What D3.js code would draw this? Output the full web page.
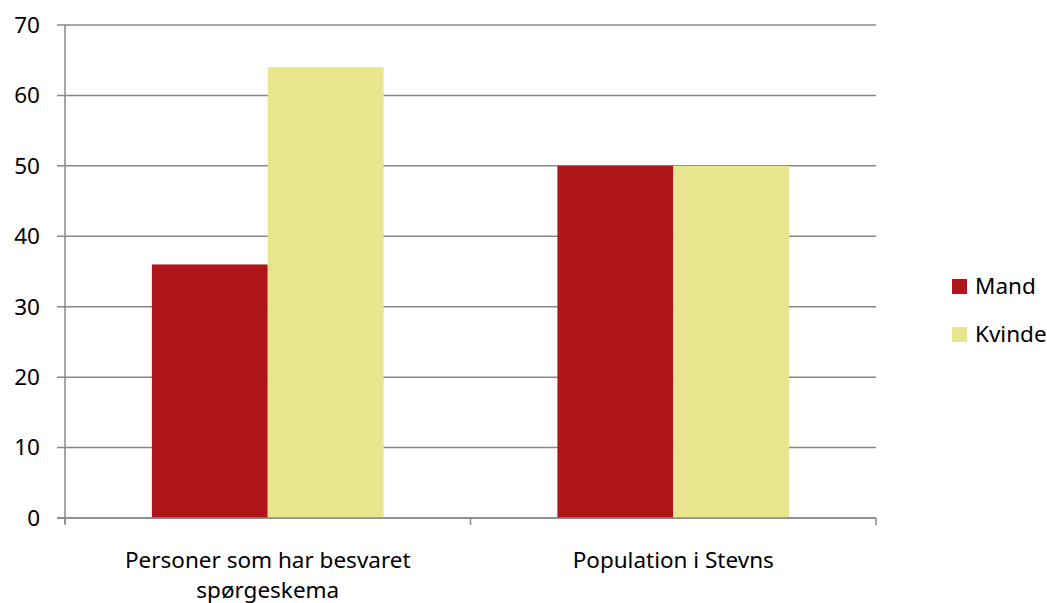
<!DOCTYPE html>
<html><head><meta charset="utf-8">
<script src="https://cdn.jsdelivr.net/npm/d3@7"></script>
<style>body{margin:0;background:#fff}text{font-family:"Noto Sans",sans-serif;fill:#000}</style>
</head><body><svg id="c" width="1047" height="603"></svg>
<script>
const categories = [["Personer som har besvaret","spørgeskema"],["Population i Stevns"]];
const seriesNames = ["Mand","Kvinde"];
const mandValues = [36, 50];
const kvindeValues = [64, 50];
const yTicks = [0,10,20,30,40,50,60,70];
const colors = ["#AE1419","#E9E58F"];

const svg = d3.select("#c");
const pLeft=65, pRight=876, pTop=25, pBottom=518;
const fs = "22.5px";
const x = d3.scaleBand().domain(d3.range(categories.length)).range([pLeft,pRight]);
const y = d3.scaleLinear().domain([0,70]).range([pBottom,pTop]);
const inner = d3.scaleBand().domain(seriesNames).range([0,x.bandwidth()]).paddingOuter(0.75).paddingInner(0);

// gridlines
svg.append("g").selectAll("line").data(yTicks).join("line")
  .attr("x1",pLeft-8).attr("x2",pRight).attr("y1",d=>y(d)).attr("y2",d=>y(d))
  .attr("stroke","#888").attr("stroke-width",1.5);
// y labels
svg.append("g").selectAll("text").data(yTicks).join("text")
  .attr("x",40).attr("y",d=>y(d)).attr("dy","0.35em").attr("text-anchor","end")
  .style("font-size",fs).text(d=>d);

const data = [mandValues,kvindeValues];
seriesNames.forEach((s,i)=>{
  svg.append("g").selectAll("rect").data(data[i]).join("rect")
    .attr("x",(d,j)=>x(j)+inner(s)).attr("width",inner.bandwidth())
    .attr("y",d=>y(d)).attr("height",d=>y(0)-y(d)).attr("fill",colors[i]);
});

// axes lines
svg.append("line").attr("x1",pLeft).attr("x2",pLeft).attr("y1",pTop).attr("y2",pBottom+6).attr("stroke","#888").attr("stroke-width",1.5);
svg.append("line").attr("x1",pLeft-8).attr("x2",pRight).attr("y1",pBottom).attr("y2",pBottom).attr("stroke","#888").attr("stroke-width",1.5);
const xt = d3.range(categories.length+1).map(i=> i<categories.length? x(i): pRight);
svg.append("g").selectAll("line").data(xt).join("line")
  .attr("x1",d=>d).attr("x2",d=>d).attr("y1",pBottom).attr("y2",pBottom+7)
  .attr("stroke","#888").attr("stroke-width",1.5);

// category labels
categories.forEach((c,i)=>{
  const t = svg.append("text").attr("text-anchor","middle").style("font-size",fs);
  c.forEach((line,k)=>{
    t.append("tspan").attr("x",x(i)+x.bandwidth()/2).attr("y",568+k*30).text(line);
  });
});

// legend
seriesNames.forEach((s,i)=>{
  svg.append("rect").attr("x",952).attr("y",279+i*48).attr("width",15).attr("height",15).attr("fill",colors[i]);
  svg.append("text").attr("x",975).attr("y",286+i*48).attr("dy","0.35em").style("font-size",fs).text(s);
});
</script></body></html>
